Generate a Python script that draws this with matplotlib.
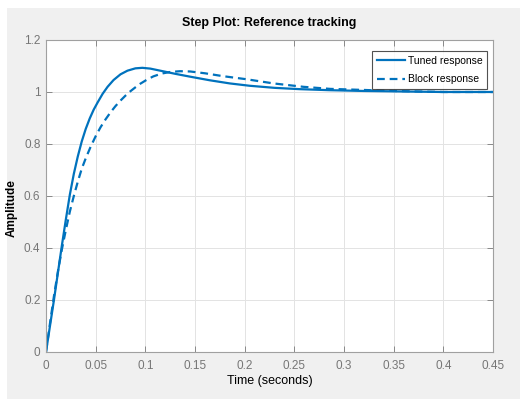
import matplotlib
matplotlib.use('Agg')
import matplotlib.pyplot as plt
from matplotlib.patches import Rectangle

# values
t_tuned = [0, 0.004, 0.008, 0.012, 0.016, 0.02, 0.024, 0.028, 0.032, 0.036, 0.04,
           0.044, 0.048, 0.052, 0.057, 0.062, 0.068, 0.075, 0.082, 0.09, 0.097,
           0.105, 0.115, 0.13, 0.145, 0.165, 0.185, 0.205, 0.23, 0.255, 0.285,
           0.32, 0.36, 0.4, 0.45]
y_tuned = [0, 0.1, 0.2, 0.305, 0.41, 0.51, 0.605, 0.685, 0.752, 0.81, 0.858,
           0.898, 0.932, 0.96, 0.993, 1.02, 1.046, 1.068, 1.082, 1.091, 1.093,
           1.09, 1.082, 1.07, 1.059, 1.045, 1.033, 1.024, 1.016, 1.011, 1.007,
           1.004, 1.002, 1.0, 1.0]

t_block = [0, 0.004, 0.008, 0.012, 0.016, 0.02, 0.024, 0.028, 0.032, 0.036, 0.04,
           0.045, 0.05, 0.055, 0.06, 0.065, 0.07, 0.075, 0.08, 0.085, 0.09,
           0.095, 0.101, 0.108, 0.1165, 0.125, 0.135, 0.145, 0.16, 0.178, 0.202,
           0.229, 0.259, 0.286, 0.319, 0.35, 0.4, 0.45]
y_block = [0, 0.11, 0.215, 0.31, 0.395, 0.47, 0.54, 0.6, 0.655, 0.705, 0.745,
           0.79, 0.83, 0.865, 0.895, 0.922, 0.946, 0.967, 0.986, 1.003, 1.018,
           1.032, 1.046, 1.06, 1.071, 1.077, 1.08, 1.079, 1.072, 1.061, 1.049,
           1.033, 1.02, 1.012, 1.008, 1.004, 1.0, 1.0]

x_ticks = [0, 0.05, 0.1, 0.15, 0.2, 0.25, 0.3, 0.35, 0.4, 0.45]
x_labels = ['0', '0.05', '0.1', '0.15', '0.2', '0.25', '0.3', '0.35', '0.4', '0.45']
y_ticks = [0, 0.2, 0.4, 0.6, 0.8, 1, 1.2]
y_labels = ['0', '0.2', '0.4', '0.6', '0.8', '1', '1.2']

narrow = ['Liberation Sans Narrow', 'Liberation Sans', 'DejaVu Sans']
blue = '#0072BD'

fig = plt.figure(figsize=(5.2, 3.99), dpi=100, facecolor='white')
# grey figure panel like the MATLAB window
fig.patches.append(Rectangle((7 / 520, 0), 1, (399 - 8) / 399, transform=fig.transFigure,
                             facecolor='#f0f0f0', edgecolor='none', zorder=-10))

ax = fig.add_axes([46 / 520, 47 / 399, 447 / 520, 312 / 399])
ax.set_facecolor('white')

ax.plot(t_tuned, y_tuned, color=blue, lw=1.6, label='Tuned response')
ax.plot(t_block, y_block, color=blue, lw=1.6, linestyle=(0, (3.5, 2.2)), label='Block response')

ax.set_xlim(0, 0.45)
ax.set_ylim(0, 1.2)
ax.set_xticks(x_ticks)
ax.set_xticklabels(x_labels, family=narrow, fontsize=8.5, color='#767676')
ax.set_yticks(y_ticks)
ax.set_yticklabels(y_labels, family=narrow, fontsize=8.5, color='#767676')
ax.tick_params(direction='in', length=4, width=0.6, color='#7a7a7a',
               top=True, right=True)
ax.tick_params(axis='x', pad=6)
ax.tick_params(axis='y', pad=4)
ax.grid(True, color='#e3e3e3', lw=0.7)
for s in ax.spines.values():
    s.set_color('#a0a0a0')
    s.set_linewidth(0.8)

ax.set_title('Step Plot: Reference tracking', family=narrow, fontsize=9,
             fontweight='bold', pad=10)
ax.set_xlabel('Time (seconds)', family=narrow, fontsize=9, labelpad=2)
ax.set_ylabel('Amplitude', family=['Liberation Sans', 'DejaVu Sans'], fontsize=8.5,
              fontweight='bold')
ax.yaxis.set_label_coords(-28 / 447, 0.46)

leg = ax.legend(loc='upper right', bbox_to_anchor=(0.987, 0.965),
                prop={'family': narrow, 'size': 7.5},
                frameon=True, fancybox=False, handlelength=2.7, handletextpad=0.3,
                borderpad=0.45, labelspacing=0.85, borderaxespad=0)
leg.get_frame().set_edgecolor('#262626')
leg.get_frame().set_linewidth(0.8)

fig.savefig('out.png', dpi=100, facecolor=fig.get_facecolor())
